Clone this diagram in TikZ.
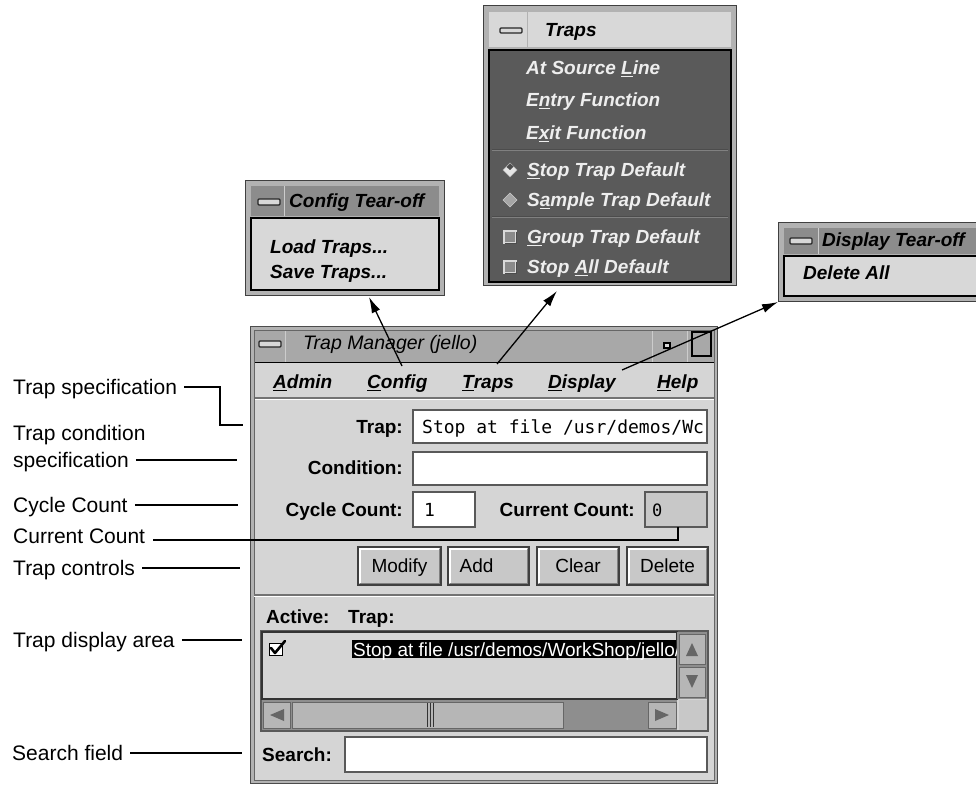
\documentclass[tikz,border=0pt]{standalone}
\usepackage{fontspec}
\setmainfont{Liberation Sans}
\newfontfamily\monof{DejaVu Sans Mono}
\usetikzlibrary{arrows.meta}
\definecolor{winbg}{HTML}{D5D5D5}
\definecolor{framec}{HTML}{B2B2B2}
\definecolor{titlec}{HTML}{A8A8A8}
\definecolor{darktitle}{HTML}{8C8C8C}
\definecolor{menudark}{HTML}{5A5A5A}
\definecolor{lightc}{HTML}{D8D8D8}
\definecolor{btnc}{HTML}{C8C8C8}
\definecolor{troughc}{HTML}{8E8E8E}
\definecolor{sliderc}{HTML}{B6B6B6}
\definecolor{menutext}{HTML}{EEEEEE}
\definecolor{chkc}{HTML}{8A8A8A}
\tikzset{
  lbl/.style={font=\fontsize{21}{25}\selectfont, anchor=west, inner sep=0pt, text height=15pt, text depth=0pt},
  gui/.style={font=\fontsize{19}{22}\selectfont, anchor=west, inner sep=0pt, text height=13.7pt, text depth=0pt},
  guib/.style={gui, font=\fontsize{19}{22}\selectfont\bfseries},
  guibi/.style={gui, font=\fontsize{19}{22}\selectfont\bfseries\itshape},
  guii/.style={gui, font=\fontsize{19.5}{22}\selectfont\itshape},
  mono/.style={font=\fontsize{18}{22}\selectfont\monof, anchor=west, inner sep=0pt, text height=13pt, text depth=0pt},
  leader/.style={line width=1.3pt, black},
  arr/.style={line width=1.3pt, black, -{Latex[length=16pt,width=9pt]}},
  field/.style={draw=black!65, line width=1.5pt, fill=white},
  btn/.style={draw=black!75, line width=1.2pt, fill=btnc, inner sep=0pt, minimum height=38pt, text height=13.7pt, text depth=0pt, font=\fontsize{19}{22}\selectfont},
  minus/.style={draw=black!85, line width=1.2pt, fill=lightc, rounded corners=1pt},
}
\begin{document}
\begin{tikzpicture}[x=1pt,y=-1pt]
\useasboundingbox (0,0) rectangle (976,786);
\fill[white] (0,0) rectangle (976,786);

% ---------------- Config tear-off ----------------
\fill[framec] (245,180) rectangle (445,296);
\draw[black!75, line width=1pt] (245.5,180.5) rectangle (444.5,295.5);
\fill[darktitle] (251,186) rectangle (439,216);
\draw[white!80!black, line width=1pt] (284,186) -- (284,216);
\draw[minus] (258,199) rectangle (280,205);
\node[guibi] (cfgtitle) at (289,201) {Config Tear-off};
\draw[black, line width=1.8pt, fill=lightc] (251,218) rectangle (439,290);
\node[guibi] (cfgload) at (270,247) {Load Traps...};
\node[guibi] (cfgsave) at (270,272) {Save Traps...};

% ---------------- Traps menu ----------------
\fill[framec] (483,5) rectangle (737,286);
\draw[black!75, line width=1pt] (483.5,5.5) rectangle (736.5,285.5);
\fill[lightc] (489,12) rectangle (731,47);
\draw[white!70!black, line width=1pt] (527,12) -- (527,47);
\draw[minus] (500,28) rectangle (522,33);
\node[guibi] (trtitle) at (545,30) {Traps};
\draw[black, line width=1.8pt, fill=menudark] (489,50) rectangle (731,282);
\draw[black!70, line width=1pt] (492,149.5) -- (728,149.5);
\draw[gray, line width=1pt] (492,151) -- (728,151);
\draw[black!70, line width=1pt] (492,216.5) -- (728,216.5);
\draw[gray, line width=1pt] (492,218) -- (728,218);
\begin{scope}[every node/.style={guibi, text=menutext}]
\node (tm1) at (526,68) {At Source \underline{L}ine};
\node (tm2) at (526,100) {E\underline{n}try Function};
\node (tm3) at (526,133) {E\underline{x}it Function};
\node (tm4) at (527,170) {\underline{S}top Trap Default};
\node (tm5) at (527,200) {S\underline{a}mple Trap Default};
\node (tm6) at (527,237) {\underline{G}roup Trap Default};
\node (tm7) at (527,267) {Stop \underline{A}ll Default};
\end{scope}
\draw[fill=white!90!black, draw=white!70!black] (510,163) -- (517,170) -- (510,177) -- (503,170) -- cycle;
\fill[black!70] (510,170) -- (513.5,166.5) -- (510,163.5) -- (506.5,167) -- cycle;
\draw[fill=gray!70, draw=white!80!black] (510,193) -- (517,200) -- (510,207) -- (503,200) -- cycle;
\draw[fill=chkc, draw=white!85!black, line width=1.2pt] (504,231) rectangle (516,243);
\draw[fill=chkc, draw=white!85!black, line width=1.2pt] (504,261) rectangle (516,273);
\draw[black!70, line width=1pt] (505,243) -- (516,243) -- (516,232);
\draw[black!70, line width=1pt] (505,273) -- (516,273) -- (516,262);

% ---------------- Display tear-off ----------------
\begin{scope}
\clip (0,0) rectangle (976,786);
\fill[framec] (778,222) rectangle (990,302);
\draw[black!75, line width=1pt] (778.5,222.5) rectangle (990,301.5);
\fill[darktitle] (784,228) rectangle (990,254);
\draw[white!80!black, line width=1pt] (818,228) -- (818,254);
\draw[minus] (790,238) rectangle (812,244);
\node[guibi] (dsptitle) at (822,240) {Display Tear-off};
\draw[black, line width=1.8pt, fill=lightc] (784,256) rectangle (990,296);
\node[guibi] (dspdel) at (803,273) {Delete All};
\end{scope}

% ---------------- Trap Manager window ----------------
\fill[framec] (250,326) rectangle (718,784);
\draw[black!70, line width=1pt] (250.5,326.5) rectangle (717.5,783.5);
\fill[titlec] (254,330) rectangle (714,362);
\draw[white!80!black, line width=1pt] (285,330) -- (285,362);
\draw[white!80!black, line width=1pt] (652,330) -- (652,362);
\draw[white!80!black, line width=1pt] (687,330) -- (687,362);
\draw[minus] (259,341) rectangle (281,347);
\node[guii] (wintitle) at (303,343) {Trap Manager (jello)};
\draw[black, line width=1.2pt, fill=lightc] (664,343) rectangle (670,348);
\draw[black, line width=1.5pt, fill=titlec] (692,332) rectangle (711,356);
\fill[winbg] (254,363) rectangle (714,780);
\draw[black, line width=1.5pt] (254,362.5) -- (714,362.5);
\draw[black!55, line width=1.2pt] (254,398) -- (714,398);
\draw[white, line width=1pt] (254,399.5) -- (714,399.5);
\draw[black!60, line width=1pt] (254,330) rectangle (714,780);

% menu bar
\node[guibi] (madmin) at (273,382) {\underline{A}dmin};
\node[guibi] (mcfg) at (367,382) {\underline{C}onfig};
\node[guibi] (mtraps) at (462,382) {\underline{T}raps};
\node[guibi] (mdisp) at (548,382) {\underline{D}isplay};
\node[guibi] (mhelp) at (657,382) {\underline{H}elp};

% fields
\node[guib, anchor=east] (ltrap) at (403,427) {Trap:};
\draw[field] (413,410) rectangle (707,443);
\begin{scope}
\clip (414,411) rectangle (706,442);
\node[mono] (vtrap) at (422,427) {Stop at file /usr/demos/Wc};
\end{scope}
\node[guib, anchor=east] (lcond) at (403,468) {Condition:};
\draw[field] (413,452) rectangle (707,485);
\node[guib, anchor=east] (lcyc) at (403,510) {Cycle Count:};
\draw[field] (413,492) rectangle (475,527);
\node[mono] (vcyc) at (424,510) {1};
\node[guib, anchor=east] (lcur) at (635,510) {Current Count:};
\draw[field, fill=btnc] (645,492) rectangle (707,527);
\node[mono, font=\fontsize{17}{20}\selectfont\monof] (vcur) at (652,510) {0};

% buttons
\node[btn, minimum width=83pt] (bmodify) at (399.5,566) {Modify};
\node[btn, minimum width=81pt] (badd) at (488.5,566) {Add\hspace*{24pt}};
\node[btn, minimum width=82pt] (bclear) at (578,566) {Clear};
\node[btn, minimum width=81pt] (bdelete) at (667.5,566) {Delete};
\foreach \b in {bmodify,badd,bclear,bdelete}{
  \draw[white, line width=1.2pt] ([xshift=2.5pt,yshift=2.5pt]\b.south west) -- ([xshift=2.5pt,yshift=-2.5pt]\b.north west) -- ([xshift=-2.5pt,yshift=-2.5pt]\b.north east);
  \draw[black!50, line width=1.2pt] ([xshift=2.5pt,yshift=2.5pt]\b.south west) -- ([xshift=-2.5pt,yshift=2.5pt]\b.south east) -- ([xshift=-2.5pt,yshift=-2.5pt]\b.north east);
}
\draw[black!55, line width=1.2pt] (254,595) -- (714,595);
\draw[white, line width=1pt] (254,596.5) -- (714,596.5);

% trap list
\node[guib] (lactive) at (266,617) {Active:};
\node[guib] (ltrap2) at (348,617) {Trap:};
\draw[black!65, line width=1.5pt, fill=winbg] (261,631) rectangle (708,731);
\draw[black!80, line width=1.2pt] (262,632) rectangle (677,699);
\draw[fill=white, draw=black, line width=1pt] (269,643) rectangle (282,655);
\draw[line width=2.6pt, line cap=round, line join=round] (271,648) -- (275,653) -- (285,641);
\begin{scope}
\clip (263,633) rectangle (676,698);
\fill[black] (352,640) rectangle (677,658);
\node[gui, text=white] (vsel) at (353,649.5) {Stop at file /usr/demos/WorkShop/jello/};
\end{scope}
% vertical scrollbar
\fill[troughc] (677,632) rectangle (707,699);
\draw[fill=sliderc, draw=black!60, line width=1pt] (679,634) rectangle (705,664);
\draw[fill=sliderc, draw=black!60, line width=1pt] (679,667) rectangle (705,697);
\fill[black!60] (686,656) -- (692,643) -- (698,656) -- cycle;
\fill[black!60] (686,675) -- (692,688) -- (698,675) -- cycle;
% horizontal scrollbar
\fill[troughc] (262,700) rectangle (677,730);
\draw[fill=sliderc, draw=black!60, line width=1pt] (263,702) rectangle (290,728);
\fill[black!60] (270,715) -- (284,709) -- (284,721) -- cycle;
\draw[fill=sliderc, draw=black!60, line width=1pt] (292,702) rectangle (563,728);
\draw[black!80, line width=1pt] (427,703) -- (427,727) (430,703) -- (430,727) (433,703) -- (433,727);
\draw[fill=sliderc, draw=black!60, line width=1pt] (648,702) rectangle (676,728);
\fill[black!60] (669,715) -- (655,709) -- (655,721) -- cycle;
\fill[btnc] (679,700) rectangle (707,730);

% search
\node[guib] (lsearch) at (262,755) {Search:};
\draw[field] (345,737) rectangle (707,772);

% ---------------- left labels ----------------
\node[lbl] (tspec) at (13,387) {Trap specification};
\node[lbl] (tcond1) at (13,433) {Trap condition};
\node[lbl] (tcond2) at (13,460) {specification};
\node[lbl] (tcyc) at (13,505) {Cycle Count};
\node[lbl] (tcur) at (13,536) {Current Count};
\node[lbl] (tctrl) at (13,568) {Trap controls};
\node[lbl] (tdisp) at (13,640) {Trap display area};
\node[lbl] (tsrch) at (12,753) {Search field};

\coordinate (pspec) at (243,425);
\coordinate (pcond) at (237,460);
\coordinate (pcyc) at (238,505);
\coordinate (pcur) at (678,527);
\coordinate (pctrl) at (240,568);
\coordinate (pdisp) at (242,640);
\coordinate (psrch) at (242,753);

\draw[leader] ([xshift=7pt]tspec.east) -- (220,387) -- (220,425) -- (pspec);
\draw[leader] ([xshift=7pt]tcond2.east) -- (pcond);
\draw[leader] ([xshift=7pt]tcyc.east) -- (pcyc);
\draw[leader] ([xshift=8pt,yshift=-4pt]tcur.east) -- (678,540) -- (pcur);
\draw[leader] ([xshift=7pt]tctrl.east) -- (pctrl);
\draw[leader] ([xshift=7pt]tdisp.east) -- (pdisp);
\draw[leader] ([xshift=7pt]tsrch.east) -- (psrch);

% ---------------- arrows ----------------
\coordinate (acfg) at (402,366);
\coordinate (atraps) at (497,364);
\coordinate (adisp) at (622,370);
\coordinate (tipcfg) at (369,297);
\coordinate (tiptraps) at (557,291);
\coordinate (tipdisp) at (778,302);
\draw[arr] (acfg) -- (tipcfg);
\draw[arr] (atraps) -- (tiptraps);
\draw[arr] (adisp) -- (tipdisp);
\end{tikzpicture}
\end{document}
